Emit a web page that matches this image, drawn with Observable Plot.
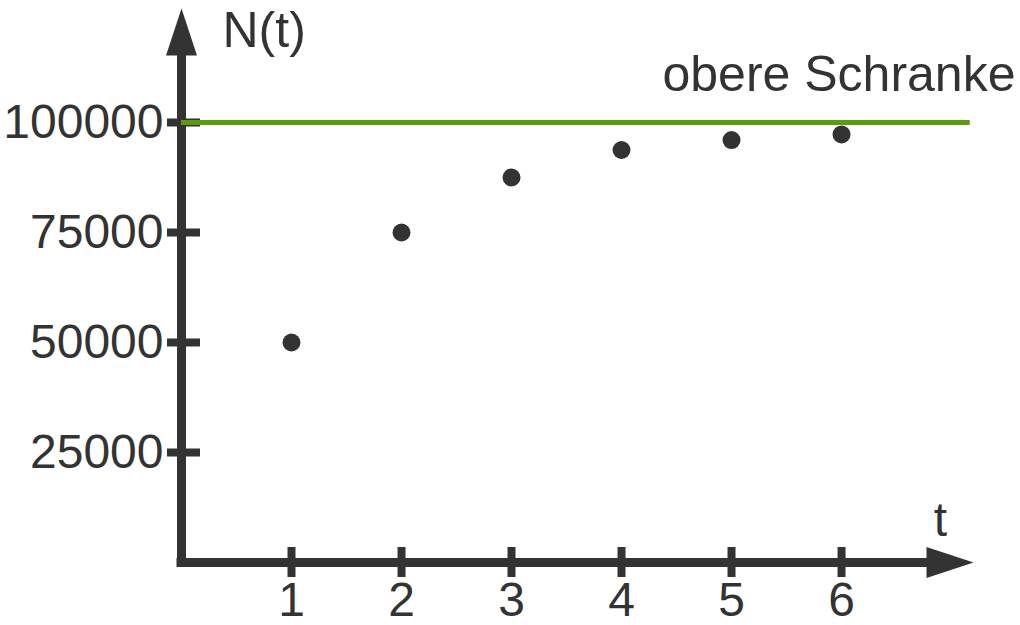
<!DOCTYPE html>
<html><head><meta charset="utf-8">
<script src="https://cdn.jsdelivr.net/npm/d3@7"></script>
<script src="https://cdn.jsdelivr.net/npm/@observablehq/plot@0.6"></script>
<style>html,body{margin:0;padding:0;background:#fff}</style>
</head><body><div id="chart"></div>
<script>
const t = [1, 2, 3, 4, 5, 6];
const N = [50000, 75000, 87500, 93750, 96000, 97300];
const yTicks = [25000, 50000, 75000, 100000];
const xTicks = [1, 2, 3, 4, 5, 6];
const upperBound = 100000;
const boundLabel = "obere Schranke";
const xLabel = "t";
const yLabel = "N(t)";
const xAxisEnd = 7.2;
const yAxisEnd = 125900;

const data = t.map((d, i) => ({t: d, N: N[i]}));
const ink = "#333333";
const green = "#5c9c0c";
const font = "'Liberation Sans', Arial, sans-serif";

const arrow = {draw(ctx) { ctx.moveTo(0, 0); ctx.lineTo(-15.5, 47); ctx.lineTo(15.5, 47); ctx.closePath(); }};

const chart = Plot.plot({
  width: 1020, height: 625,
  marginLeft: 181, marginRight: 0, marginTop: 0, marginBottom: 63,
  style: {fontFamily: font, fontSize: "48px", color: ink, background: "white"},
  x: {domain: [0, 7.627]},
  y: {domain: [0, 127727]},
  marks: [
    Plot.axisY(yTicks, {tickSize: 33, dx: 19, strokeWidth: 8, stroke: ink, fill: "none", label: null}),
    Plot.axisY(yTicks, {tickSize: 0, tickPadding: 18, fill: ink, fontSize: 48, tickFormat: d => String(d), label: null}),
    Plot.axisX(xTicks, {tickSize: 30, dy: -15, strokeWidth: 8, stroke: ink, fill: "none", label: null}),
    Plot.axisX(xTicks, {tickSize: 0, tickPadding: 19, fill: ink, fontSize: 48, tickFormat: d => String(d), label: null}),
    Plot.ruleX([0], {x: 0, y1: 0, y2: 118000, stroke: ink, strokeWidth: 9, strokeLinecap: "square"}),
    Plot.ruleY([0], {y: 0, x1: 0, x2: 6.85, stroke: ink, strokeWidth: 9, strokeLinecap: "square"}),
    Plot.dot([0], {x: 0, y: yAxisEnd, symbol: arrow, fill: ink, stroke: "none"}),
    Plot.dot([0], {x: xAxisEnd, y: 0, symbol: arrow, rotate: 90, fill: ink, stroke: "none"}),
    Plot.ruleY([upperBound], {x1: 0, x2: 7.17, stroke: green, strokeWidth: 5}),
    Plot.dot(data, {x: "t", y: "N", r: 9, fill: ink, stroke: "none"}),
    Plot.text([boundLabel], {frameAnchor: "right", y: upperBound, dx: -5, dy: -47, textAnchor: "end", fill: ink, fontSize: 50}),
    Plot.text([yLabel], {x: 0, y: yAxisEnd, dx: 41, dy: 22, textAnchor: "start", fill: ink, fontSize: 50}),
    Plot.text([xLabel], {x: xAxisEnd, y: 0, dx: -33, dy: -42, fill: ink, fontSize: 48})
  ]
});
document.getElementById("chart").appendChild(chart);
</script>
</body></html>
